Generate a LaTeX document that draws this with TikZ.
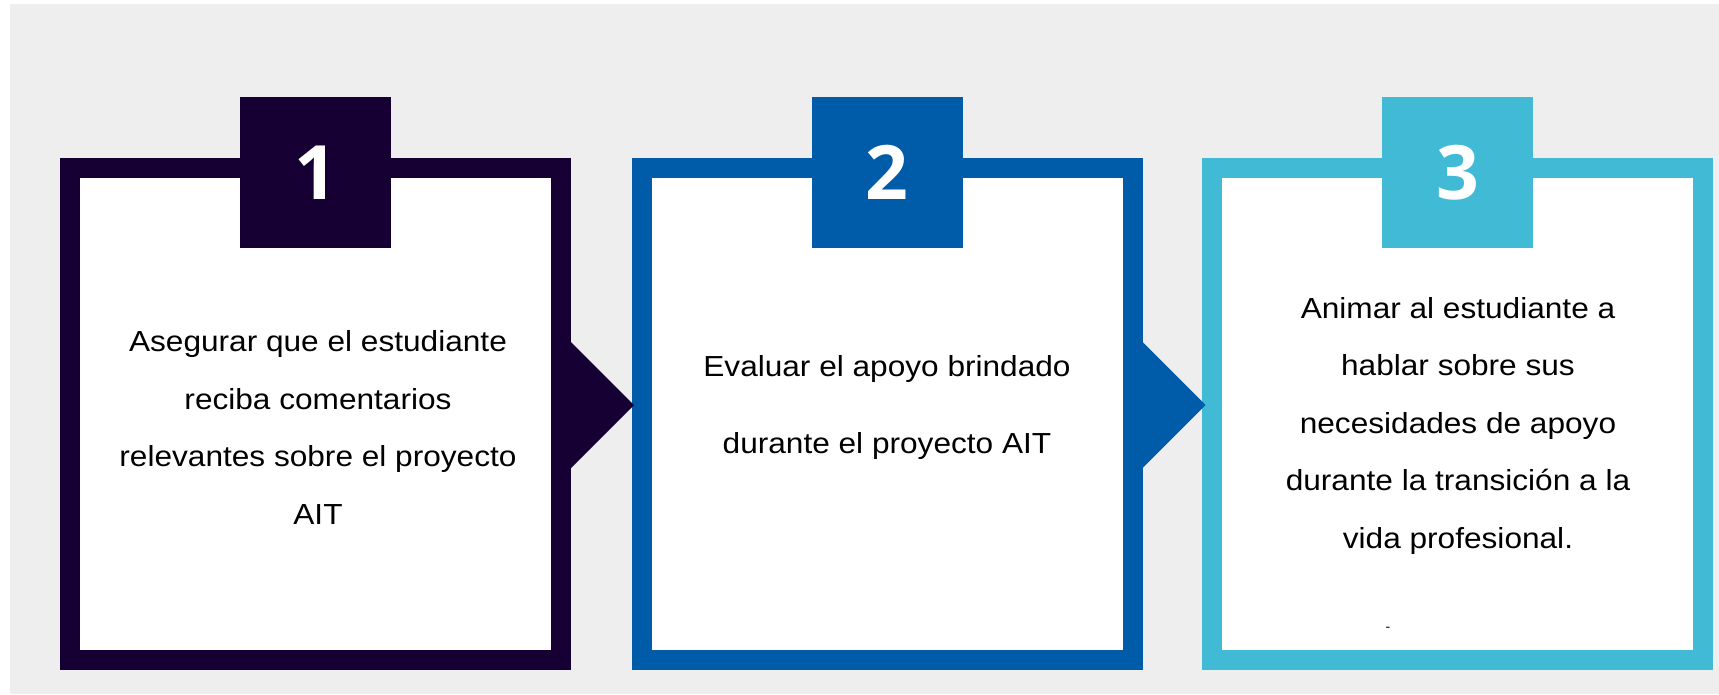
\documentclass[tikz,border=0pt]{standalone}
\usepackage{fontspec}
\setmainfont{Liberation Sans}
\newfontfamily\numfont{Open Sans}
\newfontfamily\txtfont[FakeStretch=1.09]{Liberation Sans}
\definecolor{stepone}{HTML}{160033}
\definecolor{steptwo}{HTML}{005BA9}
\definecolor{stepthree}{HTML}{41BAD6}
\definecolor{backgray}{HTML}{EEEEEE}
\begin{document}
\begin{tikzpicture}[x=1pt,y=-1pt,
  frame/.style={draw=#1, line width=20pt, fill=white, minimum width=491pt, minimum height=492pt, inner sep=0pt},
  tab/.style={fill=#1, minimum size=151pt, inner sep=0pt, text=white, font=\numfont\bfseries\fontsize{75}{75}\selectfont},
  txt/.style={align=center, anchor=base, inner sep=0pt, font=\txtfont\fontsize{29}{57.5}\selectfont}]
\useasboundingbox[fill=white] (0,0) rectangle (1719,694);
\fill[backgray] (10,4) rectangle (1719,694);

\node[frame=stepone] (box1) at (315.5,414) {};
\node[frame=steptwo] (box2) at (887,414) {};
\node[frame=stepthree] (box3) at (1457.5,414) {};

\node[tab=stepone] (tab1) at (315.5,172.5) {1};
\node[tab=steptwo] (tab2) at (887,172.5) {2};
\node[tab=stepthree] (tab3) at (1457.5,172.5) {3};

\fill[stepone] ([yshift=72pt]box1.east) -- ([xshift=63pt,yshift=9pt]box1.east) -- ([yshift=-54pt]box1.east) -- cycle;
\fill[steptwo] ([yshift=72pt]box2.east) -- ([xshift=63pt,yshift=9pt]box2.east) -- ([yshift=-54pt]box2.east) -- cycle;

\node[txt] (text1) at (318,524) {Asegurar que el estudiante\\reciba comentarios\\relevantes sobre el proyecto\\AIT};
\node[txt, font=\txtfont\fontsize{29}{77}\selectfont] (text2) at (887,453) {Evaluar el apoyo brindado\\durante el proyecto AIT};
\node[txt] (text3) at (1458,548) {Animar al estudiante a\\hablar sobre sus\\necesidades de apoyo\\durante la transición a la\\vida profesional.};
\node[text=stepone, inner sep=0pt, font=\fontsize{14}{14}\selectfont] (dash3) at (1388,629) {-};
\end{tikzpicture}
\end{document}
